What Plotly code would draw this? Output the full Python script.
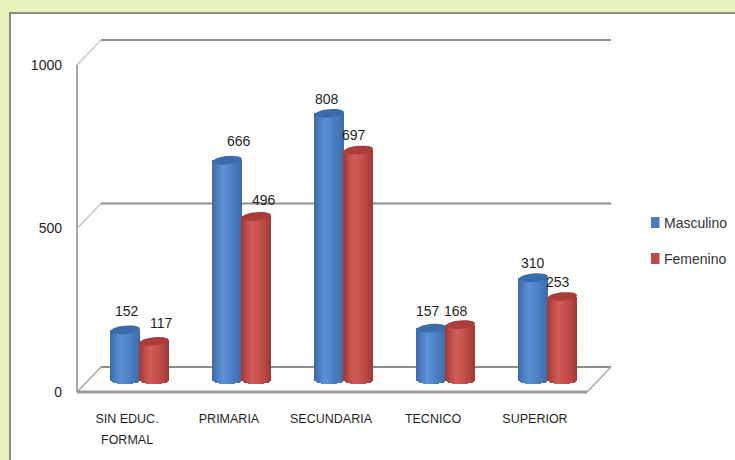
import math
import plotly.graph_objects as go

categories = ["SIN EDUC.", "PRIMARIA", "SECUNDARIA", "TECNICO", "SUPERIOR"]
second_line = "FORMAL"
masculino = [152, 666, 808, 157, 310]
femenino = [117, 496, 697, 168, 253]
y_ticks = [0, 500, 1000]

W, H = 735, 460
PX_PER_VAL = 0.33
WALL_PX_PER_VAL = 0.327
PX_PER_CAT = 102.0
X0_PX, Y0_PX = 140.0, 380.0      # bar plane origin in pixels
FRONT_DX, FRONT_DY = -13.0, 12.0 # front plane relative to bar plane
BACK_DX, BACK_DY = 11.0, -13.0   # back plane relative to bar plane
FLOOR_LEFT = -0.49
FLOOR_RIGHT = 4.51
BAR_W = 29 / PX_PER_CAT
ELL_PX = 4.2
ELL = ELL_PX / PX_PER_VAL
TILT = math.radians(-5)
N = 25


def shade(rgb_dark, rgb_mid, rgb_light, u):
    t = (u + 1) / 2
    peak = 0.36
    if t < peak:
        k = t / peak
        a, b = rgb_dark, rgb_light
    elif t < 0.72:
        k = (t - peak) / (0.72 - peak)
        a, b = rgb_light, rgb_mid
    else:
        k = (t - 0.72) / 0.28
        a, b = rgb_mid, rgb_dark
    return "rgb(%d,%d,%d)" % tuple(round(a[i] + (b[i] - a[i]) * k) for i in range(3))


def cylinder(values, side, dark, mid, light, name):
    xs, ys, bases, colors = [], [], [], []
    sw = BAR_W / N
    for i, v in enumerate(values):
        c = i + side * BAR_W / 2
        for j in range(N):
            u = -1 + (2 * j + 1) / N
            dip = ELL * math.sqrt(max(0, 1 - u * u))
            xs.append(c + u * BAR_W / 2)
            bases.append(-dip)
            ys.append(v + dip)
            colors.append(shade(dark, mid, light, u))
    return go.Bar(x=xs, y=ys, base=bases, width=sw * 1.15, name=name,
                  marker=dict(color=colors, line=dict(width=0)),
                  showlegend=False, hoverinfo="skip")


def ypx(p):
    return (Y0_PX - p) / PX_PER_VAL


def xpx(p):
    return (p - X0_PX) / PX_PER_CAT


def ellipse_path(cx, v):
    """Slightly tilted cap of a cylinder, in data units of the bar plane."""
    pts = []
    a, b = BAR_W / 2 * PX_PER_CAT, ELL_PX
    for k in range(36):
        t = 2 * math.pi * k / 36
        dx = a * math.cos(t) * math.cos(TILT) - b * math.sin(t) * math.sin(TILT)
        dy = a * math.cos(t) * math.sin(TILT) + b * math.sin(t) * math.cos(TILT)
        pts.append((cx + dx / PX_PER_CAT, v - dy / PX_PER_VAL))
    return "M" + " L".join("%.4f,%.2f" % p for p in pts) + " Z"


BLUE = ((62, 108, 170), (74, 126, 192), (92, 146, 214))
RED = ((160, 58, 55), (192, 76, 73), (212, 92, 88))

fig = go.Figure()
fig.add_trace(cylinder(masculino, -1, *BLUE, "Masculino"))
fig.add_trace(cylinder(femenino, 1, *RED, "Femenino"))
# carries the front-plane axes
fig.add_trace(go.Scatter(x=[0], y=[0], xaxis="x2", yaxis="y2", mode="markers",
                         marker=dict(opacity=0), showlegend=False, hoverinfo="skip"))

shapes = []
shapes.append(dict(type="rect", xref="paper", yref="paper", x0=10 / W, x1=1.01, y0=-0.01, y1=1 - 13 / H,
                   fillcolor="white", line=dict(color="#8c8c8c", width=2), layer="below"))


def line(x0, y0, x1, y1, color="#8e8e8e", width=2):
    shapes.append(dict(type="line", xref="x", yref="y", x0=x0, y0=y0, x1=x1, y1=y1,
                       line=dict(color=color, width=width), layer="below"))


fx = FRONT_DX / PX_PER_CAT
fy = -FRONT_DY / PX_PER_VAL
bx = BACK_DX / PX_PER_CAT
by = -BACK_DY / PX_PER_VAL
wall = WALL_PX_PER_VAL / PX_PER_VAL
for v in y_ticks:
    line(FLOOR_LEFT + fx, v * wall + fy, FLOOR_LEFT + bx, v * wall + by, "#c8c8c8" if v else "#a8a8a8", 1.5)
    line(FLOOR_LEFT + bx, v * wall + by, FLOOR_RIGHT + bx, v * wall + by)
line(FLOOR_LEFT + fx, fy, FLOOR_LEFT + fx, 1000 * wall + fy, "#a6a6a6", 2)
line(FLOOR_LEFT + fx, fy, FLOOR_RIGHT + fx, fy, "#9a9a9a", 3)
line(FLOOR_RIGHT + fx, fy, FLOOR_RIGHT + bx, by, "#a8a8a8", 1.5)

for values, side, col in ((masculino, -1, "#3a6cab"), (femenino, 1, "#aa3c3a")):
    for i, v in enumerate(values):
        c = i + side * BAR_W / 2
        shapes.append(dict(type="path", xref="x", yref="y", path=ellipse_path(c, v),
                           fillcolor=col, line=dict(width=0), layer="above"))

LABEL = dict(family="Liberation Sans", size=14, color="#1f1f1f")
annotations = []
m_nudge = [(1, 19), (11, 19), (-3, 14), (-4, 17), (-1, 15)]
f_nudge = [(7, 18), (7, 16), (-5, 15), (-5, 14), (-5, 15)]
for values, side, nudges in ((masculino, -1, m_nudge), (femenino, 1, f_nudge)):
    for i, v in enumerate(values):
        annotations.append(dict(x=i + side * BAR_W / 2, y=v, xref="x", yref="y", text=str(v), showarrow=False,
                                xshift=nudges[i][0], yshift=nudges[i][1], font=LABEL))
annotations.append(dict(x=0, y=0, xref="x2", yref="y", text=second_line, showarrow=False, yshift=-60,
                        font=dict(family="Liberation Sans", size=12.5, color="#1f1f1f")))

# legend key
for k, (name, col) in enumerate((("Masculino", "#4a7ebb"), ("Femenino", "#be4b48"))):
    yc = 222.5 + 36 * k
    shapes.append(dict(type="rect", xref="paper", yref="paper", x0=651 / W, x1=659.5 / W,
                       y0=1 - (yc + 5.5) / H, y1=1 - (yc - 5.5) / H, fillcolor=col, line=dict(width=0)))
    annotations.append(dict(xref="paper", yref="paper", x=661.5 / W, y=1 - yc / H, text=name, showarrow=False,
                            xanchor="left", yanchor="middle",
                            font=dict(family="Liberation Sans", size=14, color="#333333")))

xr = [xpx(0), xpx(W)]
yr = [ypx(H), ypx(0)]
front_y0_px = Y0_PX + FRONT_DY
fig.update_layout(
    width=W, height=H, margin=dict(l=0, r=0, t=0, b=0),
    paper_bgcolor="#e6f2bd", plot_bgcolor="rgba(0,0,0,0)", barmode="overlay", bargap=0,
    showlegend=False, shapes=shapes, annotations=annotations,
    xaxis=dict(domain=[0, 1], range=xr, visible=False),
    yaxis=dict(domain=[0, 1], range=yr, visible=False),
    xaxis2=dict(overlaying="x", anchor="free", position=(H - front_y0_px) / H, side="bottom",
                range=[xr[0] - FRONT_DX / PX_PER_CAT, xr[1] - FRONT_DX / PX_PER_CAT],
                tickmode="array", tickvals=list(range(5)), ticktext=categories,
                showgrid=False, zeroline=False, showline=False, ticks="", ticklabelstandoff=17,
                tickfont=dict(family="Liberation Sans", size=12.5, color="#1f1f1f")),
    yaxis2=dict(overlaying="y", anchor="free", position=77 / W, side="left",
                range=[(front_y0_px - H) / WALL_PX_PER_VAL, front_y0_px / WALL_PX_PER_VAL],
                tickmode="array", tickvals=y_ticks, showgrid=False, zeroline=False, showline=False,
                ticks="", ticklabelstandoff=15,
                tickfont=dict(family="Liberation Sans", size=14, color="#1f1f1f")),
)
fig.write_html("out.html", config=dict(displayModeBar=False),
               post_script="document.body.style.margin='0';document.body.style.overflow='hidden';")
